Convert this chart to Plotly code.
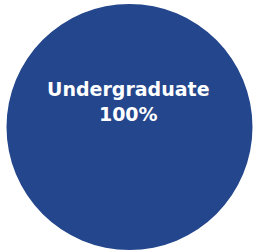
import plotly.graph_objects as go

labels = ["Undergraduate"]
values = [100]
colors = ["#23468C"]

total = sum(values)
pct_text = [f"<b>{l}<br>{round(v / total * 100)}%</b>" for l, v in zip(labels, values)]

fig = go.Figure()
fig.add_trace(go.Pie(
    labels=labels,
    values=values,
    marker=dict(colors=colors, line=dict(width=0)),
    textinfo="none",
    hoverinfo="label+percent",
    sort=False,
    showlegend=False,
    domain=dict(x=[6.5 / 254, 252.5 / 254], y=[2 / 252, 248 / 252]),
))

fig.add_annotation(
    x=128.5 / 254, y=1 - 101.5 / 252, xref="paper", yref="paper",
    text=pct_text[0], showarrow=False,
    font=dict(family="DejaVu Sans", size=19, color="white"),
    align="center",
)

fig.update_layout(
    width=254, height=252,
    margin=dict(l=0, r=0, t=0, b=0),
    paper_bgcolor="white", plot_bgcolor="white",
)

fig.write_html(
    "out.html",
    config={"displayModeBar": False},
    post_script="document.body.style.margin='0';",
)
